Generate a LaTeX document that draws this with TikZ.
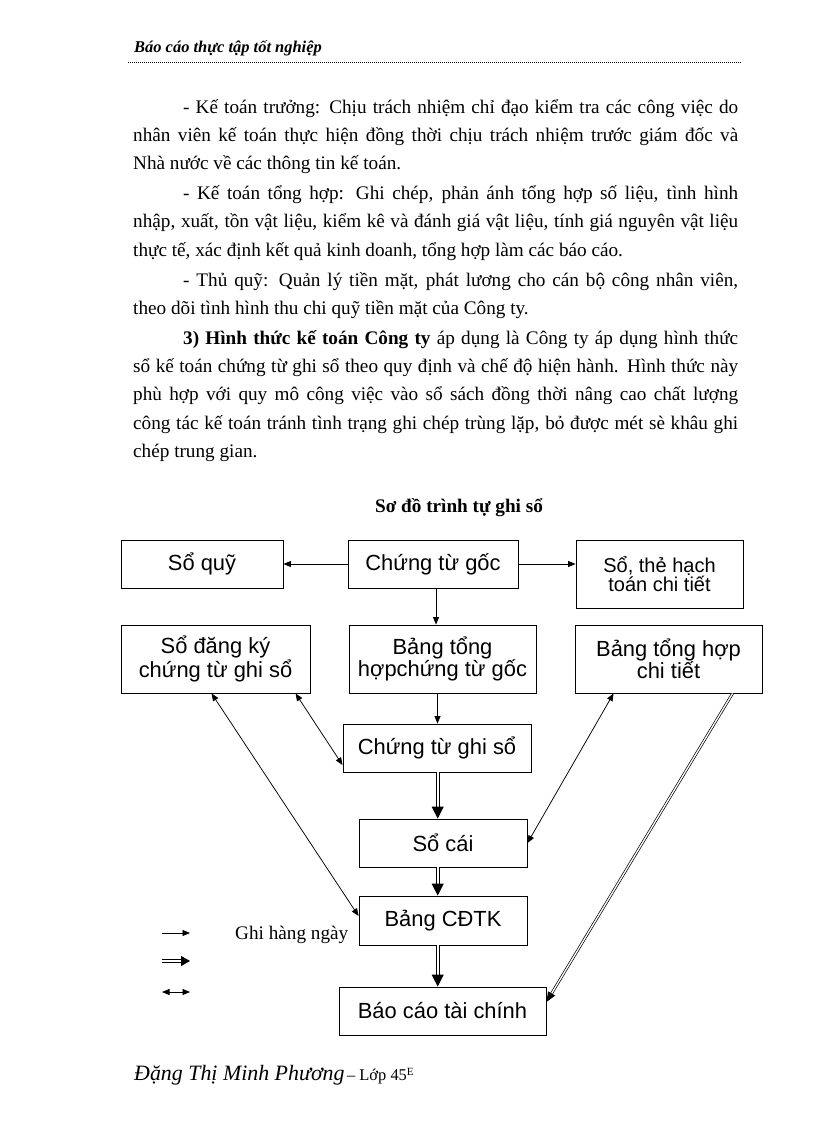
\documentclass[tikz,border=0pt]{standalone}
\usepackage{fontspec}
\setmainfont{Liberation Serif}
\newfontfamily\arialf{Liberation Sans}
\usetikzlibrary{arrows.meta,calc}
\newcommand\mybody{\fontsize{19.2}{23}\selectfont}
\newcommand\myboxf{\arialf\fontsize{21.9}{20}\selectfont}
\begin{document}
\begin{tikzpicture}[x=1pt,y=-1pt,
  box/.style={draw, line width=0.9pt, inner sep=0pt, align=center, font=\myboxf},
  txt/.style={anchor=base west, inner sep=0pt, font=\mybody},
  arr/.style={line width=0.75pt, -{Triangle[length=7.5pt,width=6pt]}},
  arrboth/.style={line width=0.75pt, {Triangle[length=7.5pt,width=6pt]}-{Triangle[length=7.5pt,width=6pt]}},
  dblline/.style={double, double distance=2pt, line width=1.15pt, shorten >=10pt},
  dbltip/.style={line width=1pt, -{Triangle[length=12pt,width=12pt]}},
  dblthinline/.style={double, double distance=1.3pt, line width=0.7pt, shorten >=8pt},
  dblthintip/.style={line width=0.7pt, -{Triangle[length=10pt,width=8pt]}},
  dotline/.style={line width=0.6pt, dash pattern=on 1pt off 1pt}
]
\useasboundingbox (0,0) rectangle (816,1123);
\fill[white] (0,0) rectangle (816,1123);

% header
\node[anchor=base west, inner sep=0pt, font=\bfseries\itshape\fontsize{16.45}{18}\selectfont] (hdr) at (134,53) {Báo cáo thực tập tốt nghiệp};
\draw[dotline] (128,62) -- (742,62);

% body text
\node[txt] (t1) at (183,113.5) {\hbox to 555pt{- Kế toán trưởng: Chịu trách nhiệm chỉ đạo kiểm tra các công việc do}};
\node[txt] (t2) at (133,141.8) {\hbox to 605pt{nhân viên kế toán thực hiện đồng thời chịu trách nhiệm trước giám đốc và}};
\node[txt] (t3) at (133,170) {Nhà nước về các thông tin kế toán.};
\node[txt] (t4) at (183,199.5) {\hbox to 555pt{- Kế toán tổng hợp: Ghi chép, phản ánh tổng hợp số liệu, tình hình}};
\node[txt] (t5) at (133,227.8) {\hbox to 605pt{nhập, xuất, tồn vật liệu, kiểm kê và đánh giá vật liệu, tính giá nguyên vật liệu}};
\node[txt] (t6) at (133,256.1) {thực tế, xác định kết quả kinh doanh, tổng hợp làm các báo cáo.};
\node[txt] (t7) at (183,286) {\hbox to 555pt{- Thủ quỹ: Quản lý tiền mặt, phát lương cho cán bộ công nhân viên,}};
\node[txt] (t8) at (133,314.3) {theo dõi tình hình thu chi quỹ tiền mặt của Công ty.};
\node[txt] (t9) at (183,344) {\hbox to 555pt{\textbf{3) Hình thức kế toán Công ty} áp dụng là Công ty áp dụng hình thức}};
\node[txt] (t10) at (133,372.3) {\hbox to 605pt{sổ kế toán chứng từ ghi sổ theo quy định và chế độ hiện hành. Hình thức này}};
\node[txt] (t11) at (133,400.6) {\hbox to 605pt{phù hợp với quy mô công việc vào sổ sách đồng thời nâng cao chất lượng}};
\node[txt] (t12) at (133,429) {\hbox to 605pt{công tác kế toán tránh tình trạng ghi chép trùng lặp, bỏ được mét sè khâu ghi}};
\node[txt] (t13) at (133,457.3) {chép trung gian.};

% title
\node[anchor=base, inner sep=0pt, font=\bfseries\mybody] (title) at (459,512) {Sơ đồ trình tự ghi sổ};

% boxes
\node[box, minimum width=162pt, minimum height=48pt] (soquy) at (202,564) {Sổ quỹ};
\node[box, minimum width=170pt, minimum height=48pt] (ctg) at (433,564) {Chứng từ gốc};
\node[box, minimum width=167pt, minimum height=68pt, font=\arialf\fontsize{20}{17}\selectfont] (sothe) at (659.5,574) {Sổ, thẻ hạch\\toán chi tiết};
\node[box, minimum width=189pt, minimum height=68pt] (dk) at (215.5,659) {Sổ đăng ký\\chứng từ ghi sổ};
\node[box, minimum width=187pt, minimum height=68pt] (bth) at (442.5,659) {Bảng tổng\\hợpchứng từ gốc};
\node[box, minimum width=187pt, minimum height=68pt] (thct) at (668.5,659) {Bảng tổng hợp\\chi tiết};
\node[box, minimum width=188pt, minimum height=48pt] (ctgs) at (437,748) {Chứng từ ghi sổ};
\node[box, minimum width=168pt, minimum height=48pt] (socai) at (443,843) {Sổ cái};
\node[box, minimum width=168pt, minimum height=49pt] (cdtk) at (443,920.5) {Bảng CĐTK};
\node[box, minimum width=207pt, minimum height=48pt] (bctc) at (442.5,1011) {Báo cáo tài chính};

% anchor points of connectors
\coordinate (d1s) at ([xshift=0.7pt]ctgs.south);
\coordinate (d1e) at ([xshift=-5.3pt]socai.north);
\coordinate (d2s) at ([xshift=-5.3pt]socai.south);
\coordinate (d2e) at ([xshift=-5.3pt]cdtk.north);
\coordinate (d3s) at ([xshift=-5.3pt]cdtk.south);
\coordinate (d3e) at ([xshift=-4.8pt]bctc.north);
\coordinate (d4s) at ([xshift=158pt]thct.south west);
\coordinate (d4e) at ([yshift=9pt]bctc.east);

% connectors
\draw[arr] (ctg.west) -- (soquy.east);
\draw[arr] (ctg.east) -- (ctg.east -| sothe.west);
\draw[arr] ([xshift=3pt]ctg.south) -- ([xshift=-6.5pt]bth.north);
\draw[arr] ([xshift=-5pt]bth.south) -- ([xshift=0.5pt]ctgs.north);
\draw[dblline] (d1s) -- (d1e);
\draw[dbltip] ($(d1e)!12pt!(d1s)$) -- (d1e);
\draw[dblline] (d2s) -- (d2e);
\draw[dbltip] ($(d2e)!12pt!(d2s)$) -- (d2e);
\draw[dblline] (d3s) -- (d3e);
\draw[dbltip] ($(d3e)!12pt!(d3s)$) -- (d3e);
\draw[arrboth] ([xshift=91pt]dk.south west) -- ([yshift=4.5pt]cdtk.west);
\draw[arrboth] ([xshift=175pt]dk.south west) -- ([yshift=-17pt]ctgs.west);
\draw[arrboth] ([xshift=39pt]thct.south west) -- (socai.east);
\draw[dblthinline] (d4s) -- (d4e);
\draw[dblthintip] ($(d4e)!10pt!(d4s)$) -- (d4e);

% legend
\coordinate (la1) at (162,933);
\coordinate (la2) at (190,933);
\coordinate (lb1) at (162,961);
\coordinate (lb2) at (190,961);
\coordinate (lc1) at (162,992);
\coordinate (lc2) at (190,992);
\draw[arr] (la1) -- (la2);
\draw[double, double distance=2.2pt, line width=1pt, shorten >=8pt] (lb1) -- (lb2);
\draw[line width=0.8pt, -{Triangle[length=9pt,width=10pt]}] ($(lb2)!9pt!(lb1)$) -- (lb2);
\draw[arrboth] (lc1) -- (lc2);
\node[anchor=base west, inner sep=0pt, font=\mybody] (leg) at (235,939) {Ghi hàng ngày};

% footer
\node[anchor=base west, inner sep=0pt] (footer) at (134,1080) {{\itshape\fontsize{21.9}{24}\selectfont Đặng Thị Minh Phương} {\fontsize{16.45}{18}\selectfont – Lớp 45\raisebox{5pt}{\fontsize{11}{11}\selectfont E}}};
\end{tikzpicture}
\end{document}
